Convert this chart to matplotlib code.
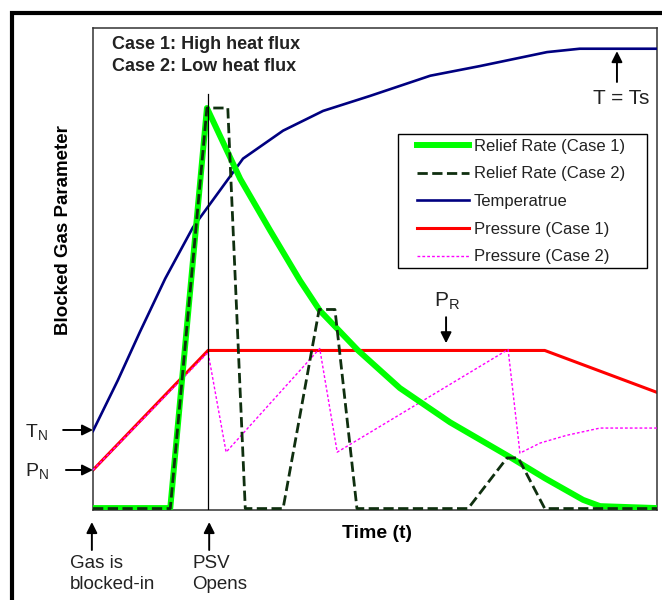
import matplotlib
matplotlib.use("Agg")
import matplotlib.pyplot as plt
from matplotlib.patches import Rectangle

plt.rcParams['font.family'] = ['Liberation Sans', 'DejaVu Sans']

# time axis 0..100, parameter axis 0..100 (arbitrary units)
temp_t = [0, 4.4, 8.3, 12.8, 17.7, 22.5, 26.6, 33.7, 40.8, 49.1, 59.8, 68.6, 80.5, 86.3, 100]
temp_v = [16.4, 26.9, 36.9, 48.0, 58.6, 66.3, 72.9, 78.7, 82.8, 85.9, 90.1, 92.1, 95.0, 95.7, 95.7]

relief1_t = [0, 13.7, 20.2, 26.1, 31.4, 36.7, 40.2, 47.0, 54.4, 63.3, 73.9, 80.1, 86.9, 89.9, 100]
relief1_v = [0.4, 0.4, 83.4, 68.7, 58.0, 47.6, 41.4, 33.1, 25.3, 18.2, 11.0, 6.6, 2.1, 0.8, 0.4]

relief2_t = [0, 13.7, 20.2, 23.9, 27.0, 33.7, 40.1, 42.9, 46.8, 66.5, 73.4, 75.4, 80.1, 100]
relief2_v = [0.3, 0.3, 83.4, 83.4, 0.3, 0.3, 41.6, 41.6, 0.3, 0.3, 10.8, 10.8, 0.3, 0.3]

press1_t = [0, 20.4, 80.1, 100]
press1_v = [8.3, 33.1, 33.1, 24.4]

press2_t = [0, 20.4, 23.6, 40.2, 43.3, 73.6, 75.7, 79.3, 84.0, 89.9, 100]
press2_v = [8.3, 32.7, 12.0, 33.5, 12.0, 33.3, 11.8, 13.9, 15.5, 17.0, 17.0]

psv_t = 20.4

fig = plt.figure(figsize=(6.62, 6.0), dpi=100)
ax = fig.add_axes([93/662, 1 - 510/600, (657-93)/662, (510-28)/600])

ax.plot(press1_t, press1_v, color='#ff0000', lw=2.2, label='Pressure (Case 1)', zorder=2)
ax.plot(press2_t, press2_v, color='#ff00ff', lw=1.0, ls=(0, (2, 1.5)), label='Pressure (Case 2)', zorder=3)
ax.plot(temp_t, temp_v, color='#000080', lw=1.9, label='Temperatrue', zorder=3)
ax.plot(relief1_t, relief1_v, color='#00ff00', lw=4.3, label='Relief Rate (Case 1)', zorder=4)
ax.plot(relief2_t, relief2_v, color='#0f2f0f', lw=2.0, ls='--', label='Relief Rate (Case 2)', zorder=5)
ax.plot([psv_t, psv_t], [0, 86.3], color='black', lw=0.9, zorder=6)

ax.set_xlim(0, 100)
ax.set_ylim(0, 100)
ax.set_xticks([])
ax.set_yticks([])
for s in ax.spines.values():
    s.set_color('#333333')
    s.set_linewidth(1.1)

# legend in the original order, frame drawn separately (wide side margins)
h, l = ax.get_legend_handles_labels()
order = [3, 4, 2, 0, 1]
leg = ax.legend([h[i] for i in order], [l[i] for i in order],
                loc='upper left', bbox_to_anchor=((417-93)/564, (510-138)/483),
                fontsize=12, frameon=False, handlelength=3.1, handletextpad=0.3,
                labelspacing=0.76, borderpad=0, borderaxespad=0)
for t in leg.get_texts():
    t.set_color('#222222')
ax.add_patch(Rectangle(((398-93)/564, (510-267)/483), 249/564, 134/483, transform=ax.transAxes,
                       fill=False, edgecolor='black', lw=1.0, zorder=7))

txt = '#222222'
ax.text(3.4, 96.5, 'Case 1: High heat flux', fontsize=13, fontweight='bold', va='center', color=txt)
ax.text(3.4, 92.1, 'Case 2: Low heat flux', fontsize=13, fontweight='bold', va='center', color=txt)

arr = dict(arrowstyle='-|>', color='black', lw=1.4, mutation_scale=16, shrinkA=0, shrinkB=0)

ax.annotate('', xy=(92.9, 95.2), xytext=(92.9, 88.8), arrowprops=arr)
ax.text(93.6, 85.3, 'T = Ts', fontsize=15, ha='center', va='center', color=txt)

ax.annotate('', xy=(62.6, 34.6), xytext=(62.6, 40.0), arrowprops=arr)
ax.text(62.8, 43.3, r'P$_\mathregular{R}$', fontsize=15, ha='center', va='center', color=txt)

ax.annotate('', xy=(0, 16.6), xytext=(-5.3, 16.6), arrowprops=arr, annotation_clip=False)
ax.text(-10.1, 16.1, r'T$_\mathregular{N}$', fontsize=14, ha='center', va='center', color=txt)

ax.annotate('', xy=(0, 8.3), xytext=(-4.8, 8.3), arrowprops=arr, annotation_clip=False)
ax.text(-9.9, 7.9, r'P$_\mathregular{N}$', fontsize=14, ha='center', va='center', color=txt)

ax.annotate('', xy=(-0.2, -2.5), xytext=(-0.2, -8.3), arrowprops=arr, annotation_clip=False)
ax.text(-4.1, -11.2, 'Gas is', fontsize=13.5, va='center', color=txt)
ax.text(-4.1, -15.4, 'blocked-in', fontsize=13.5, va='center', color=txt)

ax.annotate('', xy=(20.6, -2.5), xytext=(20.6, -8.3), arrowprops=arr, annotation_clip=False)
ax.text(17.6, -11.2, 'PSV', fontsize=13.5, va='center', color=txt)
ax.text(17.6, -15.4, 'Opens', fontsize=13.5, va='center', color=txt)

ax.text(50.4, -4.8, 'Time (t)', fontsize=14, fontweight='bold', ha='center', va='center', color='black')
ax.text(-5.3, 58.0, 'Blocked Gas Parameter', fontsize=13.5, fontweight='bold', rotation=90,
        ha='center', va='center', color='black')

# outer frame of the slide
fig.patches.append(Rectangle((12/662, -0.05), 1.0, 1 - 13/600 + 0.05, transform=fig.transFigure,
                             fill=False, edgecolor='black', lw=3, clip_on=False))

fig.savefig('out.png', dpi=100)
